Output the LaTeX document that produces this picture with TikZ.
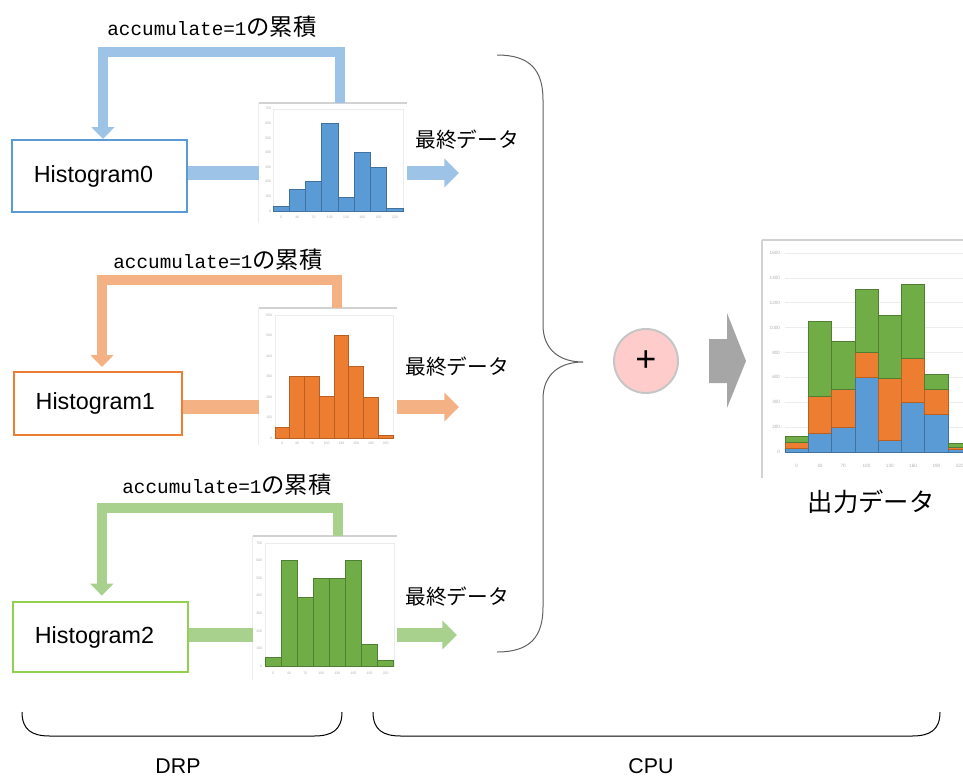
\documentclass[tikz,border=0pt]{standalone}
\usepackage{fontspec}
\setmainfont{Liberation Sans}
\setmonofont{Liberation Mono}
\newfontfamily\jpfont{Noto Sans CJK JP}
\usetikzlibrary{positioning, arrows.meta, shapes, calc}

\definecolor{bluebar}{HTML}{5B9BD5}
\definecolor{blueedge}{HTML}{41719C}
\definecolor{bluepipe}{HTML}{9DC3E6}
\definecolor{orangebar}{HTML}{ED7D31}
\definecolor{orangeedge}{HTML}{B85F22}
\definecolor{orangepipe}{HTML}{F4B183}
\definecolor{greenline}{HTML}{92D050}
\definecolor{greenbar}{HTML}{70AD47}
\definecolor{greenedge}{HTML}{507E32}
\definecolor{greenpipe}{HTML}{A9D18E}
\definecolor{plusfill}{HTML}{FFCCCC}
\definecolor{chevron}{HTML}{A6A6A6}

\begin{document}
\begin{tikzpicture}[x=0.75pt, y=-0.75pt,
  histbox/.style={draw=#1, line width=1.5pt, fill=white, inner sep=0pt,
    font=\fontsize{17.5}{20}\selectfont},
  pipe/.style={draw=#1, line width=10pt},
  feedback/.style={draw=#1, line width=7.5pt, -{Triangle[length=9pt, width=17pt]}},
  outarrow/.style={draw=#1, line width=10pt, -{Triangle[length=11pt, width=21pt]}},
  acclabel/.style={font=\ttfamily\fontsize{14.5}{16}\selectfont, inner sep=0pt},
  finlabel/.style={font=\jpfont\fontsize{15.5}{18}\selectfont, inner sep=0pt},
  chartframe/.style={inner sep=0pt, fill=white},
  framegray/.style={draw=gray!35, line width=1.2pt},
  plotgray/.style={draw=gray!15, line width=0.4pt},
  ticklbl/.style={text=gray!60, font=\fontsize{2.6}{3}\selectfont, inner sep=0.5pt},
  bar/.style={fill=#1bar, draw=#1edge, line width=0.5pt},
  brace/.style={draw=gray!75!black, line width=0.75pt},
]
\useasboundingbox (0,0) rectangle (963,778);

% Histogram0
\node[histbox=bluebar, minimum width=131.25pt, minimum height=54pt] (hist0) at (99.5,176) {Histogram0\hspace*{9pt}};
\node[chartframe, minimum width=111pt, minimum height=90pt] (chart0) at (333,163) {};
\draw[framegray] (chart0.north west) -- (chart0.north east);
\draw[plotgray] (chart0.north west) -- (chart0.south west);
\draw[plotgray] (273,211) rectangle (403,109);
\foreach \v [count=\i from 0] in {30,150,200,600,95,400,300,20}
  \draw[bar=blue] (273+\i*16.25,211) rectangle ++(16.25,-\v*0.1462);
\foreach \t in {0,100,...,700}
  \node[ticklbl, anchor=east] at (272,211-\t*0.1462) {\t};
\foreach \t [count=\i from 0] in {0,40,70,100,130,160,190,220}
  \node[ticklbl] at (281.1+\i*16.25,217) {\t};
\coordinate (end0) at (459,173);
\draw[pipe=bluepipe] (hist0.east |- end0) -- (chart0.west |- end0);
\draw[outarrow=bluepipe] (chart0.east |- end0) -- (end0);
\draw[feedback=bluepipe] ([xshift=5.25pt]chart0.north) -- ++(0,-51) -| ([xshift=2.6pt]hist0.north);
\node[acclabel] (acc0) at (212,27) {accumulate=1{\jpfont\fontsize{17.5}{18}\selectfont の累積}};
\node[finlabel] (fin0) at (467,140) {最終データ};

% Histogram1
\node[histbox=orangebar, minimum width=126pt, minimum height=47.25pt] (hist1) at (98,403.5) {Histogram1\hspace*{4pt}};
\node[chartframe, minimum width=103.5pt, minimum height=102.75pt] (chart1) at (328,376.5) {};
\draw[framegray] (chart1.north west) -- (chart1.north east);
\draw[plotgray] (chart1.north west) -- (chart1.south west);
\draw[plotgray] (275,438) rectangle (393,315);
\foreach \v [count=\i from 0] in {50,300,300,205,500,350,200,15}
  \draw[bar=orange] (275+\i*14.75,438) rectangle ++(14.75,-\v*0.205);
\foreach \t in {0,100,...,600}
  \node[ticklbl, anchor=east] at (273,438-\t*0.205) {\t};
\foreach \t [count=\i from 0] in {0,40,70,100,130,160,190,220}
  \node[ticklbl] at (282.4+\i*14.75,443) {\t};
\coordinate (end1) at (459,407);
\draw[pipe=orangepipe] (hist1.east |- end1) -- (chart1.west |- end1);
\draw[outarrow=orangepipe] (chart1.east |- end1) -- (end1);
\draw[feedback=orangepipe] ([xshift=6.75pt]chart1.north) -- ++(0,-28) -| ([xshift=3pt,yshift=3pt]hist1.north);
\node[acclabel] (acc1) at (218,260) {accumulate=1{\jpfont\fontsize{17.5}{18}\selectfont の累積}};
\node[finlabel] (fin1) at (457,367) {最終データ};

% Histogram2
\node[histbox=greenline, minimum width=131.25pt, minimum height=52.5pt] (hist2) at (100.5,637) {Histogram2\hspace*{9pt}};
\node[chartframe, minimum width=108pt, minimum height=108pt] (chart2) at (325,608) {};
\draw[framegray] (chart2.north west) -- (chart2.north east);
\draw[plotgray] (chart2.north west) -- (chart2.south west);
\draw[plotgray] (265,666) rectangle (394,543);
\foreach \v [count=\i from 0] in {50,600,390,500,500,600,125,35}
  \draw[bar=green] (265+\i*16.1,666) rectangle ++(16.1,-\v*0.176);
\foreach \t in {0,100,...,700}
  \node[ticklbl, anchor=east] at (263,666-\t*0.176) {\t};
\foreach \t [count=\i from 0] in {0,40,70,100,130,160,190,220}
  \node[ticklbl] at (273+\i*16.1,673) {\t};
\coordinate (end2) at (457,635);
\draw[pipe=greenpipe] (hist2.east |- end2) -- (chart2.west |- end2);
\draw[outarrow=greenpipe] (chart2.east |- end2) -- (end2);
\draw[feedback=greenpipe] ([xshift=9.75pt]chart2.north) -- ++(0,-28) -| ([xshift=1pt,yshift=4pt]hist2.north);
\node[acclabel] (acc2) at (227,485) {accumulate=1{\jpfont\fontsize{17.5}{18}\selectfont の累積}};
\node[finlabel] (fin2) at (457,597) {最終データ};

% CPU side
\draw[brace] (497,55) .. controls (530,55) and (543,70) .. (543,100) -- (543,325)
  .. controls (543,350) and (560,362) .. (583,362)
  .. controls (560,362) and (543,374) .. (543,399) -- (543,607)
  .. controls (543,637) and (530,652) .. (497,652);
\node[circle, fill=plusfill, draw=gray!45, line width=1.5pt, minimum size=48pt,
  inner sep=0pt, font=\fontsize{27}{27}\selectfont] (plus) at (646,361) {+};
\fill[chevron] (709,339) -- (727,339) -- (727,313) -- (746,361) -- (727,408)
  -- (727,383) -- (709,383) -- cycle;

% output data
\node[chartframe, minimum width=156pt, minimum height=178.5pt] (result) at (866,359) {};
\draw[framegray] (result.north west) -- (result.north east);
\draw[framegray] (result.north west) -- (result.south west);
\foreach \t in {0,200,...,1600} {
  \draw[plotgray] (785,452-\t*0.1244) -- (975,452-\t*0.1244);
  \node[ticklbl, anchor=east, font=\fontsize{3.5}{4}\selectfont] at (781,452-\t*0.1244) {\t};
}
\foreach \b/\o/\g [count=\i from 0] in {30/50/50,150/300/600,200/300/390,600/205/500,95/500/500,400/350/600,300/200/125,20/15/35} {
  \draw[bar=blue] (785+\i*23.3,452) rectangle ++(23.3,-\b*0.1244);
  \draw[bar=orange] (785+\i*23.3,452-\b*0.1244) rectangle ++(23.3,-\o*0.1244);
  \draw[bar=green] (785+\i*23.3,452-\b*0.1244-\o*0.1244) rectangle ++(23.3,-\g*0.1244);
}
\foreach \t [count=\i from 0] in {0,40,70,100,130,160,190,220}
  \node[ticklbl, font=\fontsize{3.5}{4}\selectfont] at (796.6+\i*23.3,466) {\t};
\node[font=\jpfont\fontsize{19}{22}\selectfont] (restitle) at (871,502) {出力データ};

% DRP / CPU
\draw[brace, draw=black] (22,712) .. controls (22,730) and (32,736) .. (50,736) -- (314,736)
  .. controls (332,736) and (342,730) .. (342,712);
\draw[brace, draw=black] (373,712) .. controls (373,730) and (383,736) .. (401,736) -- (912,736)
  .. controls (930,736) and (940,730) .. (940,712);
\node[font=\fontsize{16}{18}\selectfont] (drp) at (178,766) {DRP};
\node[font=\fontsize{16}{18}\selectfont] (cpu) at (651,766) {CPU};
\end{tikzpicture}
\end{document}
